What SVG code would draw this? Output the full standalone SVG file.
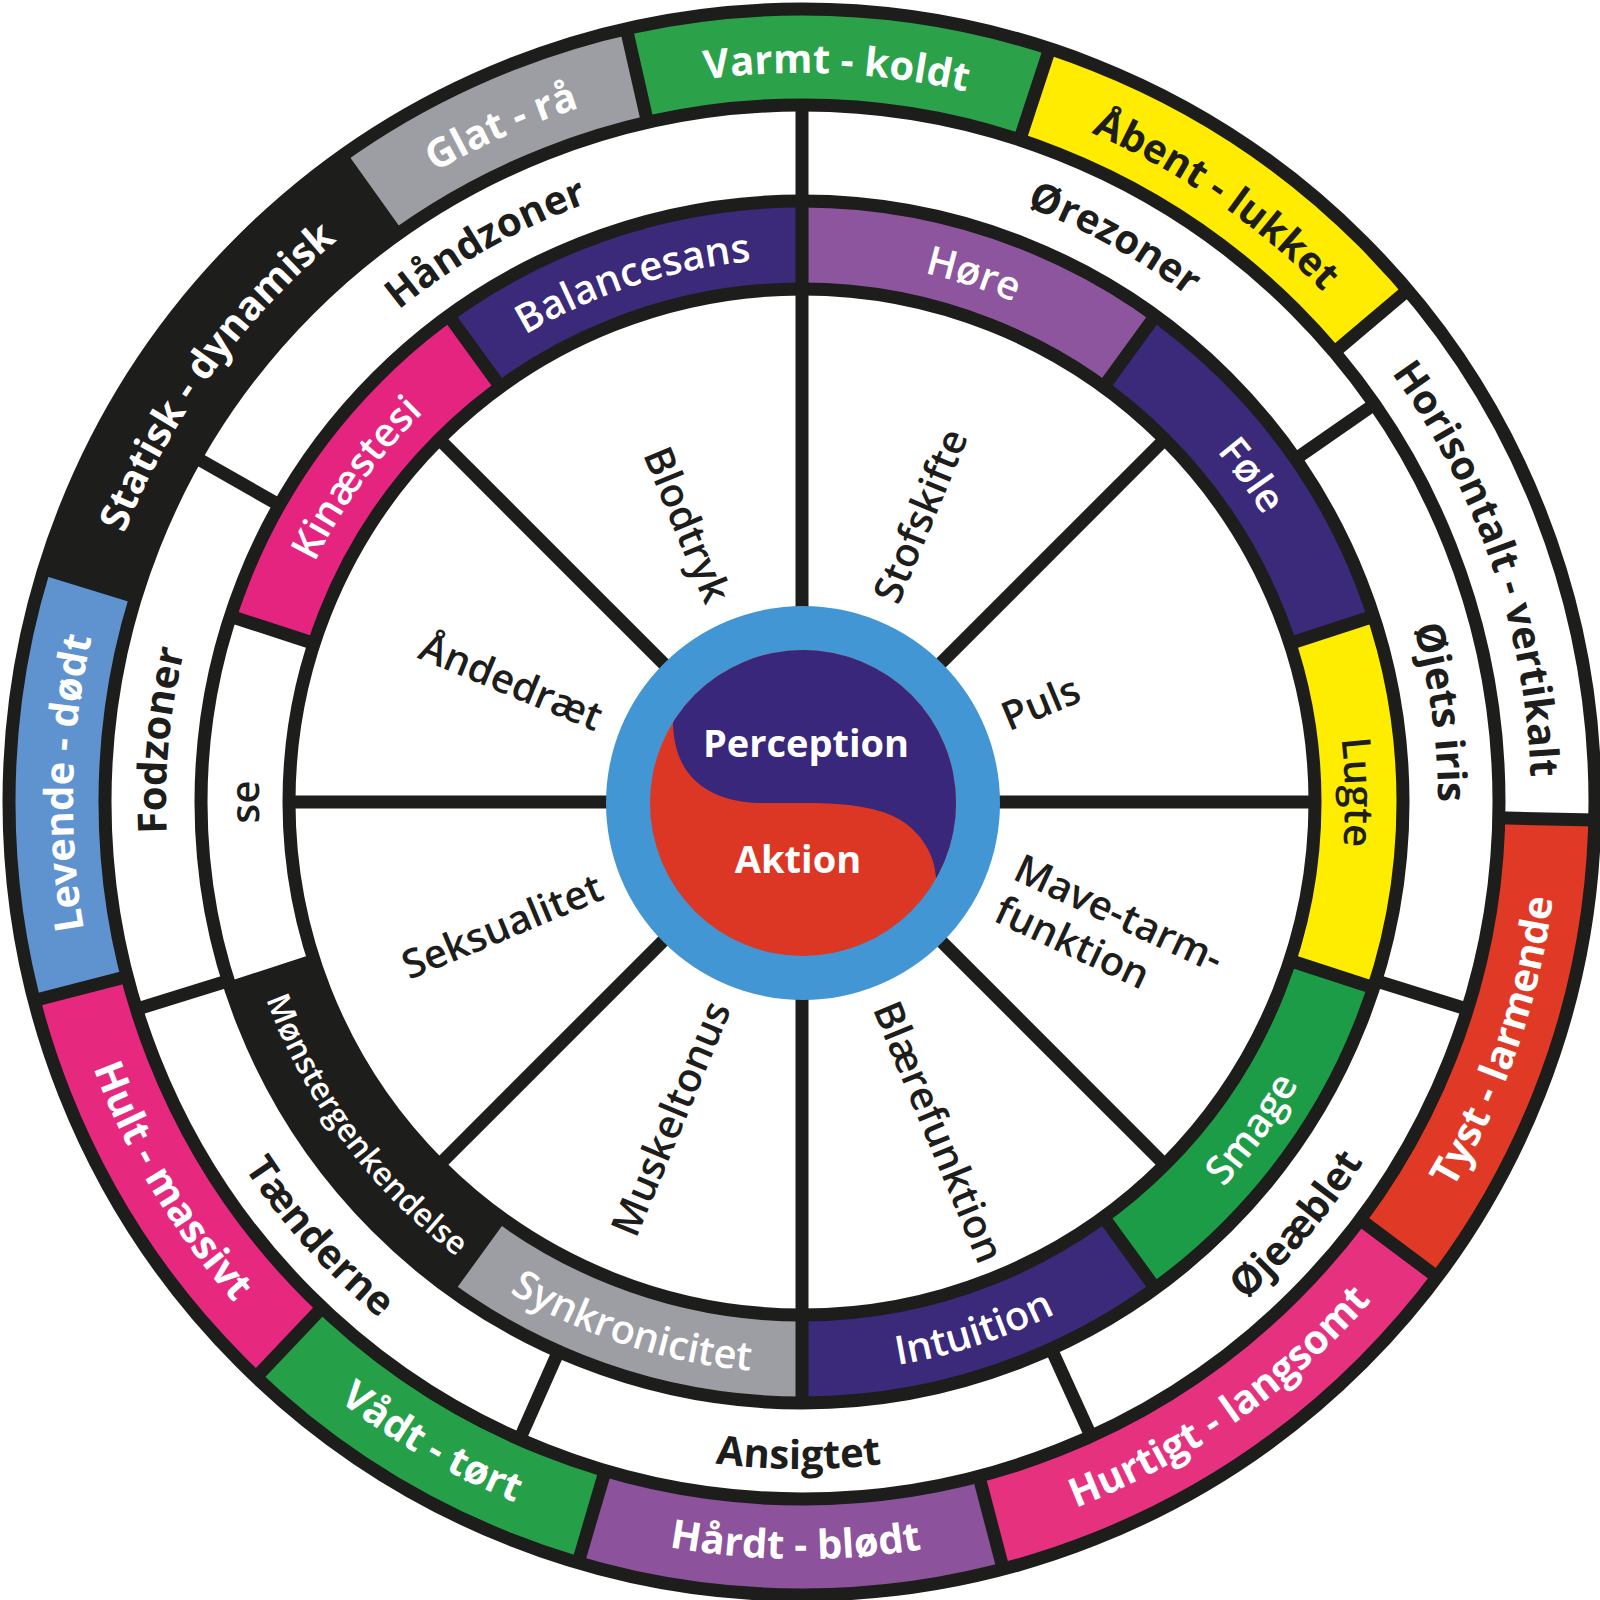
<svg xmlns="http://www.w3.org/2000/svg" xmlns:xlink="http://www.w3.org/1999/xlink" width="1600" height="1600" viewBox="0 0 1600 1600">
<style>
text{font-family:"Open Sans","Liberation Sans",sans-serif;}
.b{font-weight:700;font-size:40px;}
.s{font-weight:600;font-size:40px;}
.w{fill:#ffffff;}
.k{fill:#1d1d1b;}
.ring{fill:none;stroke:#1d1d1b;stroke-width:13;}
.sep{stroke:#1d1d1b;stroke-width:13;}
.ob{fill:none;stroke-width:96;}
.ib{fill:none;stroke-width:88;}
</style>
<defs>
<line id="sepO" x1="802" y1="105" x2="802" y2="9"/>
<line id="sepZ" x1="802" y1="201" x2="802" y2="105"/>
<line id="sepI" x1="802" y1="289" x2="802" y2="201"/>
<line id="spoke" x1="802" y1="612" x2="802" y2="289"/>
<path id="cw729" d="M802,1531 A729,729 0 0 1 802,73 A729,729 0 0 1 802,1531"/>
<path id="ccw757" d="M802,45 A757,757 0 0 0 802,1559 A757,757 0 0 0 802,45"/>
<path id="cw636" d="M802,1438 A636,636 0 0 1 802,166 A636,636 0 0 1 802,1438"/>
<path id="ccw667" d="M802,135 A667,667 0 0 0 802,1469 A667,667 0 0 0 802,135"/>
<path id="cw543" d="M802,1345 A543,543 0 0 1 802,259 A543,543 0 0 1 802,1345"/>
<path id="ccw571" d="M802,231 A571,571 0 0 0 802,1373 A571,571 0 0 0 802,231"/>
<clipPath id="yy"><circle cx="803" cy="803" r="153"/></clipPath>
</defs>
<rect width="1600" height="1600" fill="#ffffff"/>

<g id="outer-ring">
<circle class="ob" cx="802" cy="802" r="745" stroke="#2ba24a" stroke-dasharray="406 5000" transform="rotate(257.2 802 802)"/>
<circle class="ob" cx="802" cy="802" r="745" stroke="#ffec00" stroke-dasharray="413 5000" transform="rotate(-71.8 802 802)"/>
<circle class="ob" cx="802" cy="802" r="745" stroke="#ffffff" stroke-dasharray="542 5000" transform="rotate(-40.2 802 802)"/>
<circle class="ob" cx="802" cy="802" r="745" stroke="#e03a26" stroke-dasharray="464 5000" transform="rotate(1.3 802 802)"/>
<circle class="ob" cx="802" cy="802" r="745" stroke="#e6317f" stroke-dasharray="503 5000" transform="rotate(36.8 802 802)"/>
<circle class="ob" cx="802" cy="802" r="745" stroke="#8c529c" stroke-dasharray="407 5000" transform="rotate(75.3 802 802)"/>
<circle class="ob" cx="802" cy="802" r="745" stroke="#25a048" stroke-dasharray="355 5000" transform="rotate(106.4 802 802)"/>
<circle class="ob" cx="802" cy="802" r="745" stroke="#e6287f" stroke-dasharray="419 5000" transform="rotate(133.5 802 802)"/>
<circle class="ob" cx="802" cy="802" r="745" stroke="#5e93cf" stroke-dasharray="416 5000" transform="rotate(165.5 802 802)"/>
<circle class="ob" cx="802" cy="802" r="745" stroke="#1d1d1b" stroke-dasharray="491 5000" transform="rotate(197.3 802 802)"/>
<circle class="ob" cx="802" cy="802" r="745" stroke="#9d9ea3" stroke-dasharray="292 5000" transform="rotate(234.9 802 802)"/>
</g>

<g id="inner-band">
<circle class="ib" cx="802" cy="802" r="557" stroke="#8d559e" stroke-dasharray="352 5000" transform="rotate(-90 802 802)"/>
<circle class="ib" cx="802" cy="802" r="557" stroke="#3b2979" stroke-dasharray="352 5000" transform="rotate(-54 802 802)"/>
<circle class="ib" cx="802" cy="802" r="557" stroke="#ffed00" stroke-dasharray="352 5000" transform="rotate(-18 802 802)"/>
<circle class="ib" cx="802" cy="802" r="557" stroke="#1d9c48" stroke-dasharray="352 5000" transform="rotate(18 802 802)"/>
<circle class="ib" cx="802" cy="802" r="557" stroke="#3b2979" stroke-dasharray="352 5000" transform="rotate(54 802 802)"/>
<circle class="ib" cx="802" cy="802" r="557" stroke="#9d9ea3" stroke-dasharray="352 5000" transform="rotate(90 802 802)"/>
<circle class="ib" cx="802" cy="802" r="557" stroke="#1d1d1b" stroke-dasharray="352 5000" transform="rotate(126 802 802)"/>
<circle class="ib" cx="802" cy="802" r="557" stroke="#ffffff" stroke-dasharray="352 5000" transform="rotate(162 802 802)"/>
<circle class="ib" cx="802" cy="802" r="557" stroke="#e5247f" stroke-dasharray="352 5000" transform="rotate(198 802 802)"/>
<circle class="ib" cx="802" cy="802" r="557" stroke="#3b2979" stroke-dasharray="352 5000" transform="rotate(234 802 802)"/>
</g>

<g id="rings">
<circle class="ring" cx="802" cy="802" r="793"/>
<circle class="ring" cx="802" cy="802" r="697"/>
<circle class="ring" cx="802" cy="802" r="601"/>
<circle class="ring" cx="802" cy="802" r="513"/>
</g>

<g id="connectors" class="sep">
<use href="#sepO" transform="rotate(347.2 802 802)"/>
<use href="#sepO" transform="rotate(18.2 802 802)"/>
<use href="#sepO" transform="rotate(49.8 802 802)"/>
<use href="#sepO" transform="rotate(91.3 802 802)"/>
<use href="#sepO" transform="rotate(126.8 802 802)"/>
<use href="#sepO" transform="rotate(165.3 802 802)"/>
<use href="#sepO" transform="rotate(196.4 802 802)"/>
<use href="#sepO" transform="rotate(223.5 802 802)"/>
<use href="#sepO" transform="rotate(255.5 802 802)"/>
<use href="#sepO" transform="rotate(287.1 802 802)"/>
<use href="#sepO" transform="rotate(324.5 802 802)"/>
<use href="#sepZ" transform="rotate(0 802 802)"/>
<use href="#sepZ" transform="rotate(55.2 802 802)"/>
<use href="#sepZ" transform="rotate(107.3 802 802)"/>
<use href="#sepZ" transform="rotate(155.5 802 802)"/>
<use href="#sepZ" transform="rotate(203.9 802 802)"/>
<use href="#sepZ" transform="rotate(252.7 802 802)"/>
<use href="#sepZ" transform="rotate(299.6 802 802)"/>
<use href="#sepI" transform="rotate(0 802 802)"/>
<use href="#sepI" transform="rotate(36 802 802)"/>
<use href="#sepI" transform="rotate(72 802 802)"/>
<use href="#sepI" transform="rotate(108 802 802)"/>
<use href="#sepI" transform="rotate(144 802 802)"/>
<use href="#sepI" transform="rotate(180 802 802)"/>
<use href="#sepI" transform="rotate(216 802 802)"/>
<use href="#sepI" transform="rotate(252 802 802)"/>
<use href="#sepI" transform="rotate(288 802 802)"/>
<use href="#sepI" transform="rotate(324 802 802)"/>
<use href="#spoke" transform="rotate(0 802 802)"/>
<use href="#spoke" transform="rotate(45 802 802)"/>
<use href="#spoke" transform="rotate(90 802 802)"/>
<use href="#spoke" transform="rotate(135 802 802)"/>
<use href="#spoke" transform="rotate(180 802 802)"/>
<use href="#spoke" transform="rotate(225 802 802)"/>
<use href="#spoke" transform="rotate(270 802 802)"/>
<use href="#spoke" transform="rotate(315 802 802)"/>
</g>

<g id="center">
<circle cx="803" cy="803" r="197" fill="#4196d3"/>
<circle cx="803" cy="803" r="153" fill="#dc3724"/>
<path clip-path="url(#yy)" d="M630,723 L673,723 C674,770 700,800 757,803 L797,803 C840,803 880,805 905,823 C925,838 935,858 936,878 L975,878 L975,630 L630,630 Z" fill="#39277b"/>
<text class="b w" x="806" y="757" text-anchor="middle" style="font-size:38px">Perception</text>
<text class="b w" x="798" y="873" text-anchor="middle" style="font-size:38px">Aktion</text>
</g>

<g id="outer-labels" class="b">
<g id="n-varmt" transform="rotate(2.7 802 802)"><text class="w"><textPath href="#cw729" startOffset="50%" text-anchor="middle">Varmt - koldt</textPath></text></g>
<g id="n-aabent" transform="rotate(34.5 802 802)"><text class="k"><textPath href="#cw729" startOffset="50%" text-anchor="middle">Åbent - lukket</textPath></text></g>
<g id="n-horisontalt" transform="rotate(71 802 802)"><text class="k"><textPath href="#cw729" startOffset="50%" text-anchor="middle">Horisontalt - vertikalt</textPath></text></g>
<g id="n-tyst" transform="rotate(-71 802 802)"><text class="w"><textPath href="#ccw757" startOffset="50%" text-anchor="middle">Tyst - larmende</textPath></text></g>
<g id="n-hurtigt" transform="rotate(-35 802 802)"><text class="w"><textPath href="#ccw757" startOffset="50%" text-anchor="middle">Hurtigt - langsomt</textPath></text></g>
<g id="n-haardt" transform="rotate(0.5 802 802)"><text class="w"><textPath href="#ccw757" startOffset="50%" text-anchor="middle">Hårdt - blødt</textPath></text></g>
<g id="n-vaadt" transform="rotate(30 802 802)"><text class="w"><textPath href="#ccw757" startOffset="50%" text-anchor="middle">Vådt - tørt</textPath></text></g>
<g id="n-hult" transform="rotate(59 802 802)"><text class="w"><textPath href="#ccw757" startOffset="50%" text-anchor="middle">Hult - massivt</textPath></text></g>
<g id="n-levende" transform="rotate(-88.5 802 802)"><text class="w"><textPath href="#cw729" startOffset="50%" text-anchor="middle">Levende - dødt</textPath></text></g>
<g id="n-statisk" transform="rotate(-54 802 802)"><text class="w"><textPath href="#cw729" startOffset="50%" text-anchor="middle">Statisk - dynamisk</textPath></text></g>
<g id="n-glat" transform="rotate(-24 802 802)"><text class="w"><textPath href="#cw729" startOffset="50%" text-anchor="middle">Glat - rå</textPath></text></g>
</g>

<g id="zone-labels" class="b k">
<g id="n-haandzoner" transform="rotate(-29.5 802 802)"><text><textPath href="#cw636" startOffset="50%" text-anchor="middle">Håndzoner</textPath></text></g>
<g id="n-oerezoner" transform="rotate(29 802 802)"><text><textPath href="#cw636" startOffset="50%" text-anchor="middle">Ørezoner</textPath></text></g>
<g id="n-iris" transform="rotate(82 802 802)"><text><textPath href="#cw636" startOffset="50%" text-anchor="middle">Øjets iris</textPath></text></g>
<g id="n-oejeaeblet" transform="rotate(-49.5 802 802)"><text><textPath href="#ccw667" startOffset="50%" text-anchor="middle">Øjeæblet</textPath></text></g>
<g id="n-ansigtet" transform="rotate(0.3 802 802)"><text><textPath href="#ccw667" startOffset="50%" text-anchor="middle">Ansigtet</textPath></text></g>
<g id="n-taenderne" transform="rotate(48 802 802)"><text><textPath href="#ccw667" startOffset="50%" text-anchor="middle">Tænderne</textPath></text></g>
<g id="n-fodzoner" transform="rotate(-84.5 802 802)"><text><textPath href="#cw636" startOffset="50%" text-anchor="middle">Fodzoner</textPath></text></g>
</g>

<g id="sense-labels" class="s">
<g id="n-hoere" transform="rotate(18 802 802)"><text class="w"><textPath href="#cw543" startOffset="50%" text-anchor="middle">Høre</textPath></text></g>
<g id="n-foele" transform="rotate(54 802 802)"><text class="w"><textPath href="#cw543" startOffset="50%" text-anchor="middle">Føle</textPath></text></g>
<g id="n-lugte" transform="rotate(89 802 802)"><text class="k"><textPath href="#cw543" startOffset="50%" text-anchor="middle">Lugte</textPath></text></g>
<g id="n-smage" transform="rotate(-54 802 802)"><text class="w"><textPath href="#ccw571" startOffset="50%" text-anchor="middle">Smage</textPath></text></g>
<g id="n-intuition" transform="rotate(-18 802 802)"><text class="w"><textPath href="#ccw571" startOffset="50%" text-anchor="middle">Intuition</textPath></text></g>
<g id="n-synkronicitet" transform="rotate(18 802 802)"><text class="w"><textPath href="#ccw571" startOffset="50%" text-anchor="middle">Synkronicitet</textPath></text></g>
<g id="n-moenster" transform="rotate(53.5 802 802)"><text class="w" style="font-size:32px"><textPath href="#ccw571" startOffset="50%" text-anchor="middle">Mønstergenkendelse</textPath></text></g>
<g id="n-se" transform="rotate(-90 802 802)"><text class="k"><textPath href="#cw543" startOffset="50%" text-anchor="middle">se</textPath></text></g>
<g id="n-kinaestesi" transform="rotate(-54 802 802)"><text class="w"><textPath href="#cw543" startOffset="50%" text-anchor="middle">Kinæstesi</textPath></text></g>
<g id="n-balancesans" transform="rotate(-18 802 802)"><text class="w"><textPath href="#cw543" startOffset="50%" text-anchor="middle">Balancesans</textPath></text></g>
</g>

<g id="inner-labels" class="s k">
<text id="n-stofskifte" transform="rotate(-67.5 802 802)" x="1020" y="816">Stofskifte</text>
<text id="n-puls" transform="rotate(-22.5 802 802)" x="1020" y="816">Puls</text>
<text id="n-mave" transform="rotate(25 802 802)" x="1024" y="783">Mave-tarm-<tspan x="1024" y="829">funktion</tspan></text>
<text id="n-blaere" transform="rotate(67.5 802 802)" x="1020" y="816">Blærefunktion</text>
<text id="n-muskel" transform="rotate(-67.5 802 802)" x="584" y="816" text-anchor="end">Muskeltonus</text>
<text id="n-seksual" transform="rotate(-22.5 802 802)" x="584" y="816" text-anchor="end">Seksualitet</text>
<text id="n-aande" transform="rotate(22.5 802 802)" x="584" y="816" text-anchor="end">Åndedræt</text>
<text id="n-blodtryk" transform="rotate(67.5 802 802)" x="584" y="816" text-anchor="end">Blodtryk</text>
</g>
</svg>
